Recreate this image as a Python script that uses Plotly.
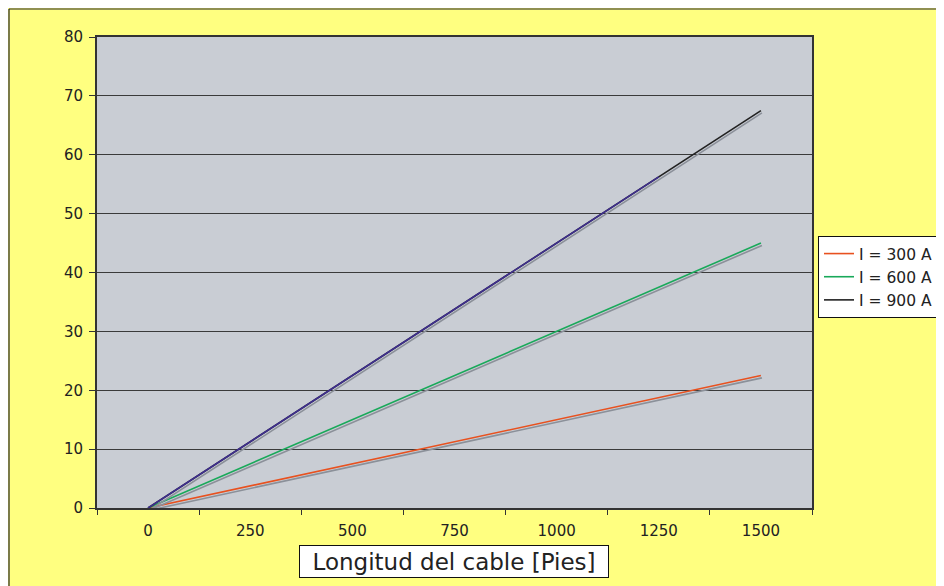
import plotly.graph_objects as go

# ---- data ----
lengths = ["0", "250", "500", "750", "1000", "1250", "1500"]
i300 = [0, 3.75, 7.5, 11.25, 15.0, 18.75, 22.5]
i600 = [0, 7.5, 15.0, 22.5, 30.0, 37.5, 45.0]
i900 = [0, 11.25, 22.5, 33.75, 45.0, 56.25, 67.5]
i900_overlay = [0, 11.25, 22.5, 33.75, 45.0, 56.25, None]
series_names = ["I = 300 A", "I = 600 A", "I = 900 A"]
y_ticks = [0, 10, 20, 30, 40, 50, 60, 70, 80]
x_title = "Longitud del cable [Pies]"

colors = ["#E8511F", "#19A95A", "#222222"]
overlay_color = "#3E2E8E"
shadow_color = "#8B9099"
FONT = "DejaVu Sans"

fig = go.Figure()

# shadows (drawn on shifted overlay axes)
for vals in [i300, i600, i900]:
    fig.add_trace(go.Scatter(x=lengths, y=vals, mode="lines", xaxis="x2", yaxis="y2",
                             line=dict(color=shadow_color, width=1.6),
                             showlegend=False, hoverinfo="skip"))

for name, vals, c in zip(series_names, [i300, i600, i900], colors):
    fig.add_trace(go.Scatter(x=lengths, y=vals, mode="lines", name=name,
                             line=dict(color=c, width=1.6)))

fig.add_trace(go.Scatter(x=lengths, y=i900_overlay, mode="lines", showlegend=False,
                         line=dict(color=overlay_color, width=1.6), hoverinfo="skip"))

# page has an 8px body margin; figure coords = page coords - 8
OFF = 8
W, H = 960, 586 - OFF
PL, PR, PT, PB = 97 - OFF, 812 - OFF, 37 - OFF, 508 - OFF
L, R, T, B = PL, W - PR, PT, H - PB
PW, PH = PR - PL, PB - PT

def px_x(px):
    return (px - OFF - L) / PW

def px_y(py):
    return (PB - (py - OFF)) / PH

fig.update_layout(
    width=W, height=H,
    margin=dict(l=L, r=R, t=T, b=B, pad=0),
    paper_bgcolor="#FFFF80",
    plot_bgcolor="#C9CDD4",
    font=dict(family=FONT, size=15, color="#222222"),
    showlegend=True,
    legend=dict(x=px_x(818), y=px_y(236), xanchor="left", yanchor="top",
                bgcolor="#FFFFFF", bordercolor="#111111", borderwidth=1,
                font=dict(family=FONT, size=15.5, color="#222222"),
                itemwidth=30, tracegroupgap=0),
    xaxis=dict(type="category", categoryorder="array", categoryarray=lengths,
               range=[-0.5, 6.5], tickson="boundaries", ticks="outside", ticklen=5,
               tickcolor="#333333", showgrid=False, showline=True, mirror=True,
               linecolor="#333333", linewidth=2, tickfont=dict(size=15),
               ticklabelstandoff=8),
    yaxis=dict(range=[0, 80], tickvals=y_ticks, ticks="outside", ticklen=6,
               tickcolor="#333333", showgrid=True, gridcolor="#3A3A3A", gridwidth=1.2,
               showline=True, mirror=True, linecolor="#333333", linewidth=2,
               zeroline=False, tickfont=dict(size=15), ticklabelstandoff=3),
    xaxis2=dict(type="category", categoryorder="array", categoryarray=lengths,
                overlaying="x", range=[-0.51, 6.49], visible=False),
    yaxis2=dict(overlaying="y", range=[0.4, 80.4], visible=False),
)

# black border of chart area (top and left)
fig.add_shape(type="line", xref="paper", yref="paper",
              x0=px_x(9), x1=px_x(990), y0=px_y(9), y1=px_y(9),
              line=dict(color="#222222", width=1.2), layer="above")
fig.add_shape(type="line", xref="paper", yref="paper",
              x0=px_x(9), x1=px_x(9), y0=px_y(9), y1=px_y(600),
              line=dict(color="#222222", width=1.2), layer="above")

fig.add_annotation(text=x_title, xref="paper", yref="paper",
                   x=px_x(453.5), y=px_y(561.5), xanchor="center", yanchor="middle",
                   showarrow=False, bgcolor="white", bordercolor="#111111", borderwidth=1,
                   width=306, height=29, borderpad=1,
                   font=dict(family=FONT, size=23, color="#222222"))

fig.write_html("out.html", post_script="document.body.style.overflow='hidden';")
